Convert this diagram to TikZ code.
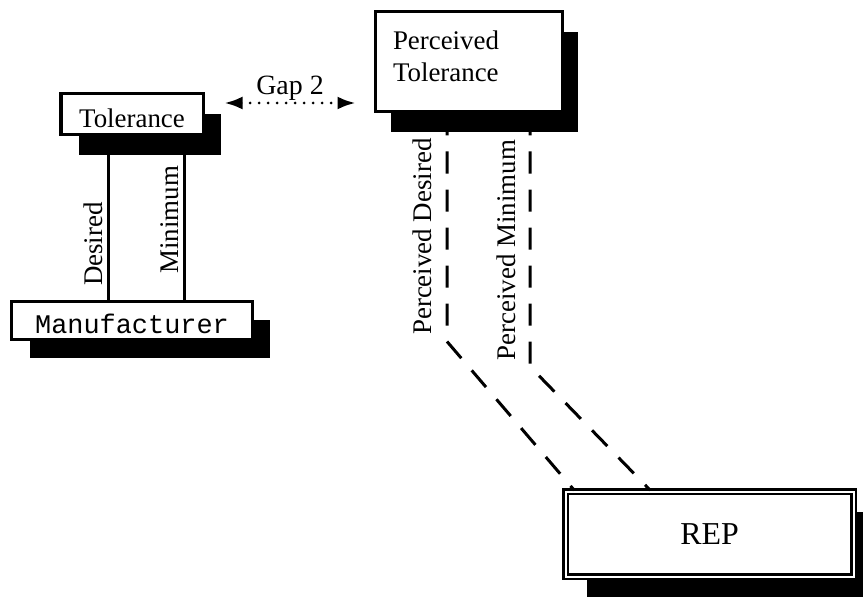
\documentclass[tikz,border=0pt]{standalone}
\usepackage{fontspec}
\setmainfont{Liberation Serif}
\setmonofont{Liberation Mono}
\usetikzlibrary{arrows.meta,shadows}

\begin{document}
\begin{tikzpicture}[x=1bp,y=-1bp,every node/.style={font=\fontsize{27}{32}\selectfont}]

		\tikzset{box/.style = {draw, line width=3bp, fill=white, inner sep=0pt}}
		\tikzset{shadowed/.style 2 args = {drop shadow={shadow xshift=#1, shadow yshift=#2, fill=black, opacity=1}}}
		\tikzset{edge/.style = {line width=3bp}}
		\tikzset{dashededge/.style = {line width=3bp, dash pattern=on 22bp off 16bp}}
		\tikzset{gapedge/.style = {line width=3bp, line cap=round, dash pattern=on 0bp off 9bp, {Latex[length=18bp,width=13bp]}-{Latex[length=18bp,width=13bp]}}}
		\tikzset{linelabel/.style = {rotate=90, anchor=south}}

		\useasboundingbox (0,0) rectangle (863,597);

		% boxes
		\node[box, shadowed={18bp}{-20bp}, minimum width=142bp, minimum height=41bp, text height=27bp, text depth=0pt] (tol) at (132,114.5) {Tolerance};
		\node[box, shadowed={18bp}{-19bp}, minimum width=240bp, minimum height=38bp, text height=27bp, text depth=0pt, font=\fontsize{27}{32}\selectfont\ttfamily] (man) at (132,320) {Manufacturer};
		\node[box, shadowed={16bp}{-20bp}, minimum height=100bp, text width=151bp, inner xsep=18bp, align=left, text height=18bp, text depth=42bp] (pt) at (468.5,62) {Perceived\\Tolerance};
		\node[box, shadowed={21bp}{-20bp}, double, line width=2.5bp, double distance=2bp, minimum width=288bp, minimum height=85bp, font=\fontsize{32}{38}\selectfont] (rep) at (709.5,534) {REP};

		% edges
		\draw[edge] ([xshift=-24bp]tol.south) -- node[linelabel, pos=0.66] {Desired} ([xshift=-24bp]man.north);
		\draw[edge] ([xshift=52bp]tol.south) -- node[linelabel, pos=0.51] {Minimum} ([xshift=52bp]man.north);
		\draw[dashededge] ([xshift=-21.5bp]pt.south) -- node[linelabel, pos=0.54, inner ysep=14bp] {Perceived Desired} ++(0,228) -- ([xshift=10bp]rep.north west);
		\draw[dashededge] ([xshift=61.5bp]pt.south) -- node[linelabel, pos=0.54, inner ysep=13bp] {Perceived Minimum} ++(0,253) -- ([xshift=86bp]rep.north west);

		% gap
		\coordinate (gapL) at ([xshift=20bp, yshift=11.5bp]tol.east);
		\coordinate (gapR) at ([xshift=-18bp, yshift=-41bp]pt.west);
		\draw[gapedge] (gapL) -- node[above, inner sep=1bp, font=\fontsize{28}{32}\selectfont] {Gap 2} (gapR);

\end{tikzpicture}
\end{document}
